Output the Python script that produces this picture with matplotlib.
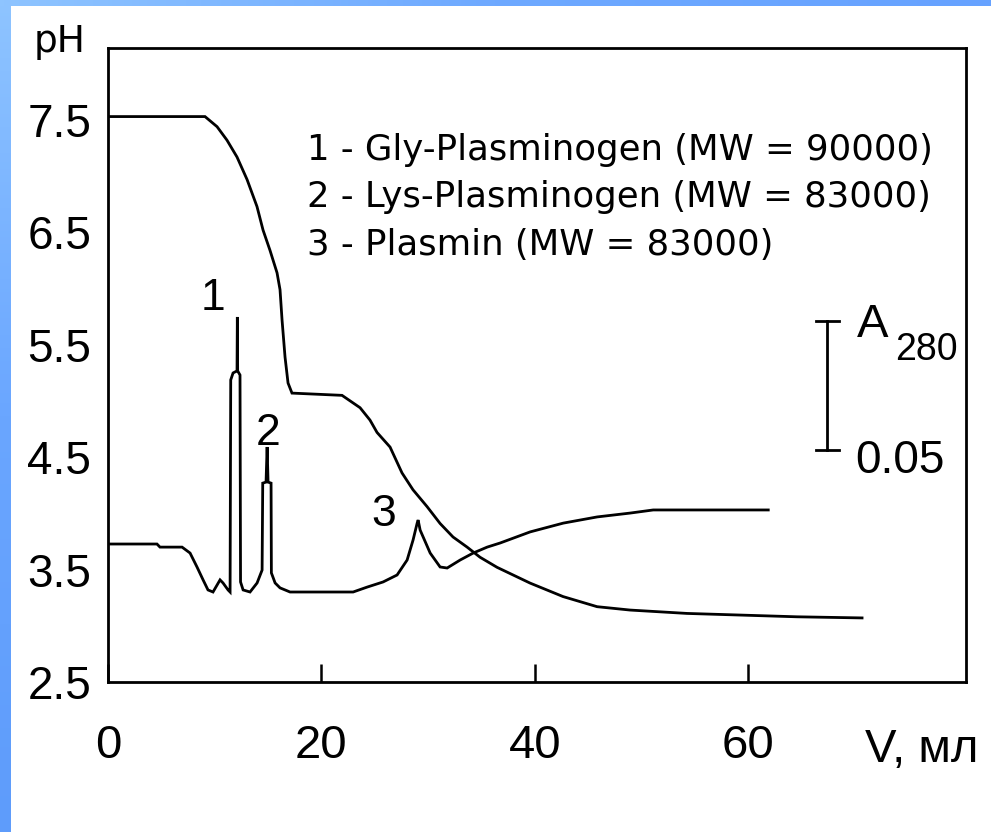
import numpy as np
import matplotlib
matplotlib.use("Agg")
import matplotlib.pyplot as plt
from matplotlib.colors import LinearSegmentedColormap

# pH gradient (left axis)
ph_v = [0.0, 9.09, 10.22, 11.15, 12.09, 13.03, 13.96, 14.53, 15.18, 15.84, 16.12,
        16.31, 16.59, 16.87, 17.24, 21.93, 23.62, 24.55, 25.21, 26.43, 27.55,
        28.58, 29.9, 31.12, 32.33, 33.65, 34.86, 36.46, 39.55, 42.64, 45.83,
        48.92, 54.26, 64.57, 70.66]
ph_val = [7.53, 7.53, 7.44, 7.32, 7.17, 6.97, 6.73, 6.52, 6.34, 6.14, 5.99,
          5.72, 5.39, 5.16, 5.07, 5.05, 4.94, 4.83, 4.72, 4.59, 4.36,
          4.21, 4.06, 3.91, 3.79, 3.70, 3.61, 3.52, 3.38, 3.26, 3.17,
          3.14, 3.11, 3.08, 3.07]

# absorbance at 280 nm, relative to the baseline
a_v = [0.0, 4.59, 4.87, 6.94, 7.69, 8.34, 8.91, 9.37, 9.84, 10.50, 10.78, 11.25,
       11.44, 11.50, 11.72, 12.09, 12.12, 12.15, 12.37, 12.42, 12.66, 13.31,
       13.97, 14.44, 14.50, 14.81, 14.91, 15.0, 15.28, 15.31, 15.66, 16.12,
       17.06, 22.97, 24.28, 25.78, 27.09, 28.03, 28.59, 28.97, 29.06, 29.25,
       30.19, 31.12, 31.78, 33.0, 34.22, 35.53, 36.75, 39.56, 42.66, 45.84,
       48.94, 51.09, 61.87]
a_val = [0.0186, 0.0186, 0.0174, 0.0174, 0.0151, 0.0097, 0.0047, 0.0008, 0.0,
         0.0047, 0.0035, 0.0008,
         0.0, 0.0822, 0.0849, 0.0857, 0.1066, 0.0857, 0.0841, 0.0039, 0.0008, 0.0,
         0.0035, 0.0085, 0.0422, 0.0426, 0.0562, 0.0426, 0.0422, 0.0074, 0.0035,
         0.0016, 0.0, 0.0, 0.0019, 0.0039, 0.0066, 0.0124, 0.0202, 0.0267, 0.0279,
         0.0240, 0.0151, 0.0097, 0.0093, 0.0124, 0.0151, 0.0174, 0.0190, 0.0233,
         0.0267, 0.0291, 0.0306, 0.0318, 0.0318]

x_ticks = [0, 20, 40, 60]
y_ticks = [2.5, 3.5, 4.5, 5.5, 6.5, 7.5]
y_tick_labels = ["2.5", "3.5", "4.5", "5.5", "6.5", "7.5"]

peak_labels = ["1", "2", "3"]
peak_pos = [(9.84, 0.1136), (15.0, 0.0615), (25.8, 0.0300)]

legend_lines = ["1 - Gly-Plasminogen (MW = 90000)",
                "2 - Lys-Plasminogen (MW = 83000)",
                "3 - Plasmin (MW = 83000)"]

scale_x = 67.4
scale_base = 0.055
scale_len = 0.05

W, H = 991, 832
SANS = ["Liberation Sans", "DejaVu Sans"]


def fx(px):
    return px / W


def fy(py):
    return 1 - py / H


fig = plt.figure(figsize=(W / 100, H / 100), dpi=100)
fig.patch.set_facecolor("white")

# blue frame strips
cmap_v = LinearSegmentedColormap.from_list("v", ["#8ec4ff", "#6aa6ff", "#5e9cfb"])
cmap_h = LinearSegmentedColormap.from_list("h", ["#8ec4ff", "#6ea9ff", "#66a2ff"])
sl = fig.add_axes([0, 0, fx(11), 1])
sl.imshow(np.linspace(0, 1, 256).reshape(-1, 1), cmap=cmap_v, aspect="auto")
sl.set_axis_off()
st = fig.add_axes([0, fy(6), 1, 6 / H])
st.imshow(np.linspace(0, 1, 256).reshape(1, -1), cmap=cmap_h, aspect="auto")
st.set_axis_off()

LW = 2.0

ax = fig.add_axes([fx(108), fy(682), fx(966 - 108), (682 - 48) / H])
ax.set_xlim(0, 80.4)
ax.set_ylim(2.5, 8.14)
for s in ax.spines.values():
    s.set_linewidth(2.0)
    s.set_color("black")

ax.plot(ph_v, ph_val, color="black", lw=LW, solid_joinstyle="miter")

ax.set_xticks(x_ticks)
ax.set_xticklabels([str(t) for t in x_ticks], family=SANS, fontsize=34)
ax.tick_params(axis="x", direction="in", length=13, width=1.8, pad=30)
ax.set_yticks(y_ticks)
ax.set_yticklabels(y_tick_labels, family=SANS, fontsize=33)
ax.tick_params(axis="y", which="major", length=0, pad=12)
ax.set_yticks([4.5, 5.5, 6.5, 7.5], minor=True)
ax.tick_params(axis="y", which="minor", direction="in", length=8, width=1.8)
ax.tick_params(top=False, right=False)

ax2 = ax.twinx()
ax2.set_ylim(-0.03488, 0.21085)
ax2.set_xlim(0, 80.4)
ax2.axis("off")
ax2.plot(a_v, a_val, color="black", lw=LW, solid_joinstyle="miter")

# A280 scale bar
ax2.plot([scale_x, scale_x], [scale_base, scale_base + scale_len], color="black", lw=LW)
for yy in (scale_base, scale_base + scale_len):
    ax2.plot([scale_x - 1.1, scale_x + 1.1], [yy, yy], color="black", lw=LW)

for lab, (xx, yy) in zip(peak_labels, peak_pos):
    ax2.text(xx, yy, lab, family=SANS, fontsize=32, ha="center", va="center")

fig.text(fx(857), fy(337), "A", family=SANS, fontsize=34, va="baseline")
fig.text(fx(895), fy(360), "280", family=SANS, fontsize=27, va="baseline")
fig.text(fx(855), fy(473), "0.05", family=SANS, fontsize=33, va="baseline")

fig.text(fx(60), fy(52), "pH", family="DejaVu Sans", fontsize=27, ha="center", va="baseline")
fig.text(fx(865), fy(762), "V, мл", family=SANS, fontsize=34, va="baseline")

for i, line in enumerate(legend_lines):
    fig.text(fx(307), fy(160 + 47.5 * i), line, family="DejaVu Sans", fontsize=25.6,
             va="baseline")

fig.savefig("out.png", dpi=100, facecolor="white")
